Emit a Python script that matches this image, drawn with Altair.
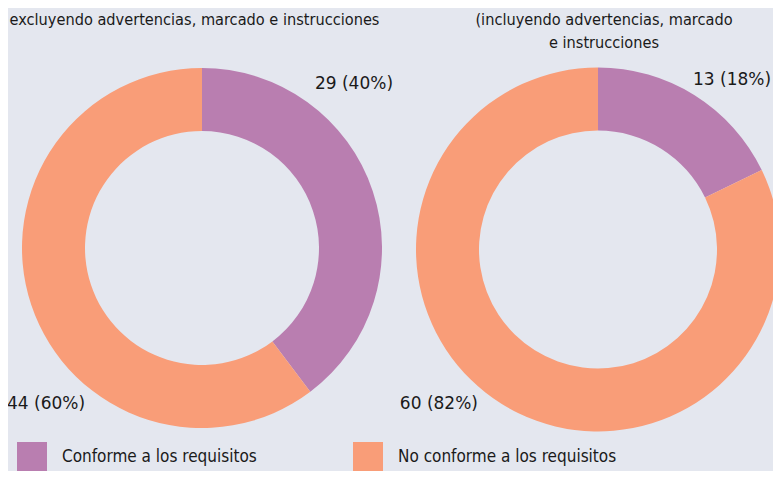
import altair as alt
import pandas as pd

categories = ["Conforme a los requisitos", "No conforme a los requisitos"]
left_values = [29, 44]
right_values = [13, 60]
left_subtitle = ["excluyendo advertencias, marcado e instrucciones"]
right_subtitle = ["(incluyendo advertencias, marcado", "e instrucciones"]
colors = ["#B97EB0", "#F99D78"]
BG = "#E4E7EF"

rows = []
for panel, vals in (("left", left_values), ("right", right_values)):
    total = sum(vals)
    for i, (c, v) in enumerate(zip(categories, vals)):
        rows.append({"panel": panel, "cat": c, "value": v, "idx": i,
                     "label": f"{v} ({round(v / total * 100)}%)"})
df = pd.DataFrame(rows)

base = alt.Chart(df)
color = alt.Color("cat:N", scale=alt.Scale(domain=categories, range=colors),
                  legend=alt.Legend(title=None, orient="none", legendX=9, legendY=434,
                                    direction="horizontal", columns=2,
                                    symbolType="square", symbolSize=900,
                                    symbolStrokeWidth=0, symbolOpacity=1,
                                    labelFont="DejaVu Sans Condensed", labelFontSize=17,
                                    labelColor="#1a1a1a", labelOffset=15,
                                    columnPadding=96, labelLimit=400))

def donut(panel, cx, cy, r_out, r_in):
    return base.transform_filter(alt.datum.panel == panel).mark_arc(
        x=cx, y=cy, radius=r_out, radius2=r_in, stroke=None
    ).encode(
        theta=alt.Theta("value:Q", stack=True),
        color=color,
        order=alt.Order("idx:Q"),
    )

def label(panel, idx, cx, cy, th, r):
    return base.transform_filter(
        (alt.datum.panel == panel) & (alt.datum.idx == idx)
    ).mark_text(
        x=cx, y=cy, theta=th, radius=r, align="center", baseline="middle",
        font="DejaVu Sans", fontSize=17, color="#1a1a1a"
    ).encode(text="label:N")

left = donut("left", 194, 240, 180, 117)
right = donut("right", 590, 241.5, 182, 119)

labels = [
    label("left", 0, 194, 240, 0.7474, 223.6),
    label("left", 1, 194, 240, 3.927, 220.6),
    label("right", 0, 590, 241.5, 0.669, 216.1),
    label("right", 1, 590, 241.5, 3.942, 221.7),
]

sub_l = alt.Chart(pd.DataFrame({"t": [0]})).mark_text(
    x=186.5, y=12, text=left_subtitle, align="center", baseline="middle",
    font="DejaVu Sans Condensed", fontSize=16.2, color="#1a1a1a"
).encode(opacity=alt.value(1))
sub_r = alt.Chart(pd.DataFrame({"t": [0]})).mark_text(
    x=596, y=12, text=right_subtitle, align="center", baseline="middle",
    lineHeight=23, font="DejaVu Sans Condensed", fontSize=16.2, color="#1a1a1a"
).encode(opacity=alt.value(1))

chart = alt.layer(left, right, *labels, sub_l, sub_r).resolve_scale(
    theta="independent"
).properties(
    width=765, height=463, autosize=alt.AutoSizeParams(type="none"),
    padding=0, background=BG
).configure_view(stroke=None)

chart.save("out.html", embed_options={"renderer": "svg", "actions": False})
